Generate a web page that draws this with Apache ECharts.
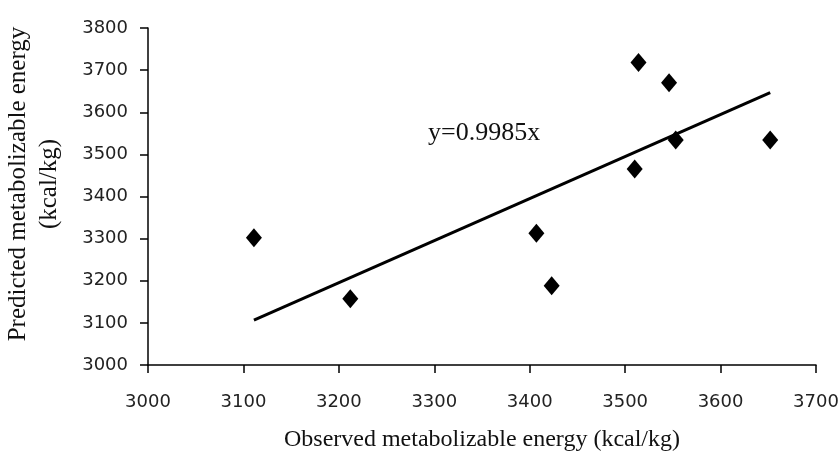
<!DOCTYPE html>
<html>
<head>
<meta charset="utf-8">
<script src="https://cdn.jsdelivr.net/npm/echarts@6/dist/echarts.min.js"></script>
<style>html,body{margin:0;padding:0;background:#fff;}#c{width:840px;height:451px;}</style>
</head>
<body>
<div id="c"></div>
<script>
var observed = [3111, 3212, 3407, 3423, 3510, 3514, 3546, 3553, 3652];
var predicted = [3302, 3157, 3313, 3188, 3465, 3718, 3670, 3534, 3534];
var slope = 0.9985;
var xTicks = {min: 3000, max: 3700, interval: 100};
var yTicks = {min: 3000, max: 3800, interval: 100};
var equationText = 'y=0.9985x';
var xTitle = 'Observed metabolizable energy (kcal/kg)';
var yTitle = 'Predicted metabolizable energy\n(kcal/kg)';

var points = observed.map(function (x, i) { return [x, predicted[i]]; });
var xMin = Math.min.apply(null, observed), xMax = Math.max.apply(null, observed);
var trend = [[xMin, slope * xMin], [xMax, slope * xMax]];

var chart = echarts.init(document.getElementById('c'));
var axisCommon = {
  type: 'value',
  axisLine: {show: true, lineStyle: {color: '#000', width: 1.5}},
  axisTick: {show: true, inside: false, length: 8, lineStyle: {color: '#000', width: 1.5}},
  splitLine: {show: false},
  axisLabel: {fontFamily: 'DejaVu Sans', fontSize: 18, color: '#222',
              formatter: function (v) { return String(v); }}
};
chart.setOption({
  animation: false,
  backgroundColor: '#fff',
  grid: {left: 148, right: 24, top: 28, bottom: 86, containLabel: false, outerBoundsMode: 'none'},
  xAxis: Object.assign({}, axisCommon, {
    min: xTicks.min, max: xTicks.max, interval: xTicks.interval,
    axisLabel: Object.assign({}, axisCommon.axisLabel, {margin: 28}),
    name: xTitle, nameLocation: 'middle', nameGap: 63,
    nameTextStyle: {fontFamily: 'Liberation Serif', fontSize: 24, color: '#111'}
  }),
  yAxis: Object.assign({}, axisCommon, {
    min: yTicks.min, max: yTicks.max, interval: yTicks.interval,
    axisLabel: Object.assign({}, axisCommon.axisLabel, {margin: 20})
  }),
  graphic: [
    {type: 'text', x: 34, y: 184, rotation: Math.PI / 2,
     style: {text: yTitle, fontFamily: 'Liberation Serif', fontSize: 25, lineHeight: 31,
             fill: '#111', align: 'center', verticalAlign: 'middle'}},
    {type: 'text', x: 428, y: 133,
     style: {text: equationText, fontFamily: 'Liberation Serif', fontSize: 26,
             fill: '#111', align: 'left', verticalAlign: 'middle'}}
  ],
  series: [
    {type: 'line', data: trend, symbol: 'none', lineStyle: {color: '#000', width: 3}, z: 2},
    {type: 'scatter', data: points, symbol: 'diamond', symbolSize: [16, 19],
     itemStyle: {color: '#000', opacity: 1}, z: 3}
  ]
});
</script>
</body>
</html>
